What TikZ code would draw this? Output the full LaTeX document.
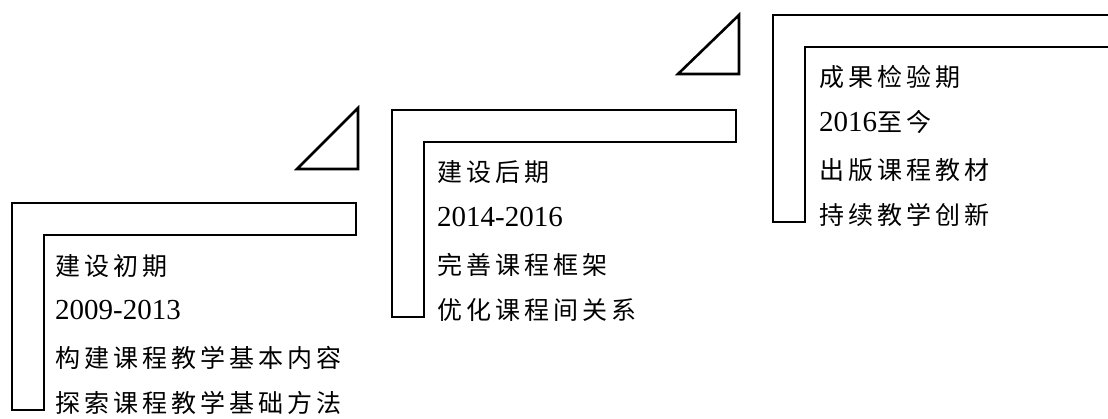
\documentclass[tikz,border=0pt]{standalone}
\usepackage{fontspec}
\setmainfont{Liberation Serif}
\newfontfamily\cjk[LetterSpace=16]{Noto Sans CJK SC}
\newcommand{\zh}{\fontsize{25}{25}\selectfont\cjk}
\tikzset{
	bar/.style={line width=2.6pt, line join=miter},
	zhtxt/.style={anchor=base west, inner sep=0pt, font=\zh},
	numtxt/.style={anchor=base west, inner sep=0pt, font=\fontsize{29}{29}\selectfont},
}
\begin{document}
\begin{tikzpicture}[x=1pt,y=-1pt]
	\clip (0,0) rectangle (1108,418);
	\def\L{344}
	\def\w{32}
	\def\H{207}
	%Giai doan 1
	\begin{scope}[shift={(12,203)}]
		\draw[bar] (0,0)--(\L,0)--(\L,\w)--(\w,\w)--(\w,\H)--(0,\H)--cycle;
		\node[zhtxt] (p1a) at (43,72) {建设初期};
		\node[numtxt] (p1b) at (43,116) {2009-2013};
		\node[zhtxt] (p1c) at (43,164) {构建课程教学基本内容};
		\node[zhtxt] (p1d) at (43,209) {探索课程教学基础方法};
	\end{scope}
	
	%Giai doan 2
	\begin{scope}[shift={(392,110)}]
		\draw[bar] (-95,59)--(-34,-2)--(-34,59)--cycle;
		\draw[bar] (0,0)--(\L,0)--(\L,\w)--(\w,\w)--(\w,\H)--(0,\H)--cycle;
		\node[zhtxt] (p2a) at (45,71) {建设后期};
		\node[numtxt] (p2b) at (45,116) {2014-2016};
		\node[zhtxt] (p2c) at (45,164) {完善课程框架};
		\node[zhtxt] (p2d) at (45,209) {优化课程间关系};
	\end{scope}
	
	%Giai doan 3
	\begin{scope}[shift={(773,15)}]
		\draw[bar] (-95,59)--(-34,0)--(-34,59)--cycle;
		\draw[bar] (0,0)--(\L+40,0)--(\L+40,\w)--(\w,\w)--(\w,\H)--(0,\H)--cycle;
		\node[zhtxt] (p3a) at (46,71) {成果检验期};
		\node[numtxt] (p3b) at (46,116) {2016{\zh 至今}};
		\node[zhtxt] (p3c) at (46,164) {出版课程教材};
		\node[zhtxt] (p3d) at (46,209) {持续教学创新};
	\end{scope}
\end{tikzpicture}
\end{document}
